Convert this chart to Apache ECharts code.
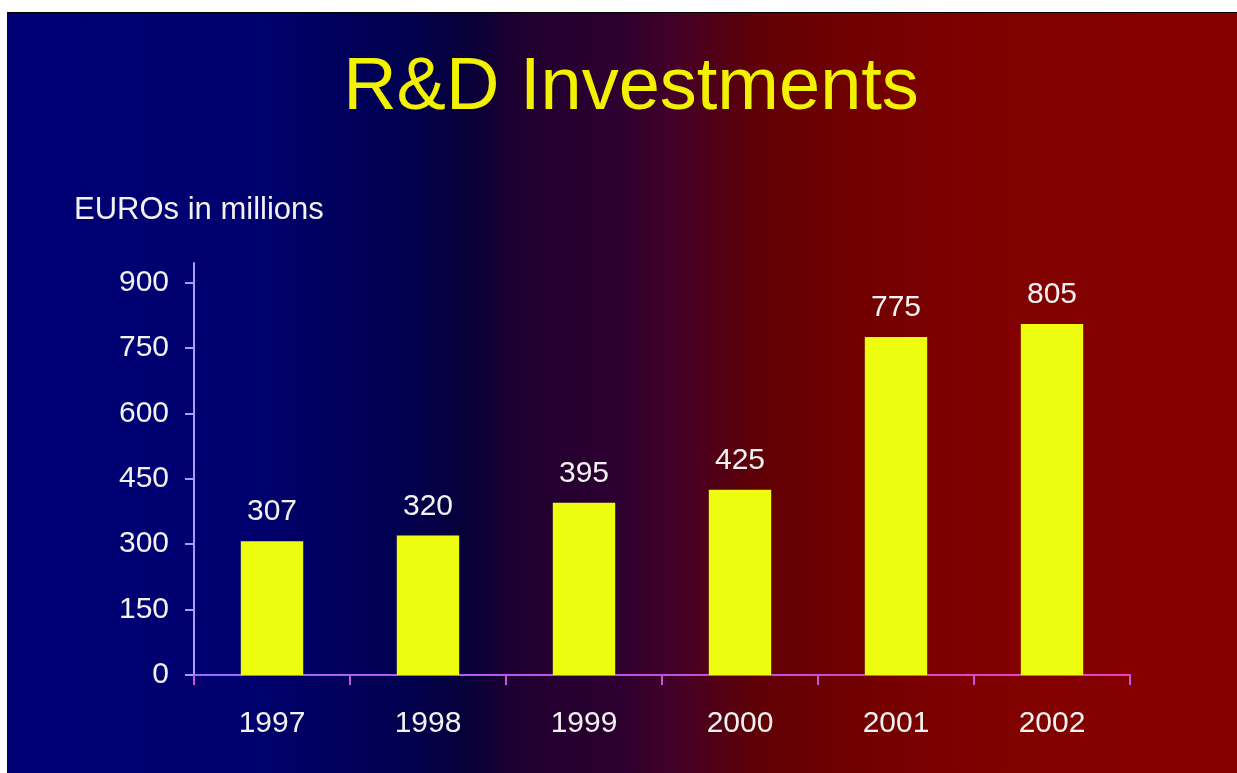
<!DOCTYPE html>
<html>
<head>
<meta charset="utf-8">
<script src="https://cdn.jsdelivr.net/npm/echarts@6/dist/echarts.min.js"></script>
<style>
  html, body { margin: 0; padding: 0; background: #fff; }
  #chart {
    position: absolute;
    left: 7px;
    top: 12px;
    width: 1230px;
    height: 761px;
    border-top: 1px solid #000;
    box-sizing: border-box;
  }
</style>
</head>
<body>
<div id="chart"></div>
<script>
// values
const years = ['1997', '1998', '1999', '2000', '2001', '2002'];
const investments = [307, 320, 395, 425, 775, 805];
const yTicks = [0, 150, 300, 450, 600, 750, 900];

const font = '"Liberation Sans", Arial, sans-serif';

let chart = echarts.init(document.getElementById('chart'));
chart.setOption({
  backgroundColor: new echarts.graphic.LinearGradient(0, 0, 1, 0, [
    {offset: 0, color: '#000076'},
    {offset: 0.2, color: '#00006e'},
    {offset: 0.32, color: '#000050'},
    {offset: 0.376, color: '#080038'},
    {offset: 0.417, color: '#200030'},
    {offset: 0.496, color: '#2c0030'},
    {offset: 0.547, color: '#450025'},
    {offset: 0.588, color: '#550010'},
    {offset: 0.612, color: '#600005'},
    {offset: 0.685, color: '#700000'},
    {offset: 0.79, color: '#800000'},
    {offset: 1, color: '#870000'}
  ]),
  animation: false,
  title: [
    {
      text: 'R&D Investments',
      left: 619,
      top: 34,
      textAlign: 'center',
      textStyle: {color: '#f2f200', fontSize: 74, fontWeight: 'normal', fontFamily: font}
    },
    {
      text: 'EUROs in millions',
      left: 62,
      top: 177,
      textStyle: {color: '#f2f2f2', fontSize: 31, fontWeight: 'normal', fontFamily: font}
    }
  ],
  grid: {left: 187, right: 107, top: 250, bottom: 98},
  xAxis: {
    type: 'category',
    data: years,
    axisLine: {
      lineStyle: {
        width: 2,
        color: new echarts.graphic.LinearGradient(0, 0, 1, 0, [
          {offset: 0, color: '#9c6cff'},
          {offset: 0.5, color: '#c050e0'},
          {offset: 1, color: '#e844b8'}
        ])
      }
    },
    axisTick: {show: true, length: 10, lineStyle: {width: 2, color: '#c458d8'}},
    axisLabel: {color: '#f2f2f2', fontSize: 30, fontFamily: font, margin: 34}
  },
  yAxis: {
    type: 'value',
    min: 0,
    max: 945,
    splitLine: {show: false},
    axisLine: {show: true, lineStyle: {color: '#a89cff', width: 2}},
    axisTick: {show: true, length: 9, customValues: yTicks, lineStyle: {width: 2}},
    axisLabel: {color: '#f2f2f2', fontSize: 30, fontFamily: font, margin: 25, customValues: yTicks}
  },
  series: [
    {
      type: 'bar',
      data: investments,
      barWidth: '40%',
      itemStyle: {color: '#eefc10'},
      label: {
        show: true,
        position: 'top',
        distance: 14,
        color: '#f2f2f2',
        fontSize: 30,
        fontFamily: font
      }
    }
  ]
});
</script>
</body>
</html>
